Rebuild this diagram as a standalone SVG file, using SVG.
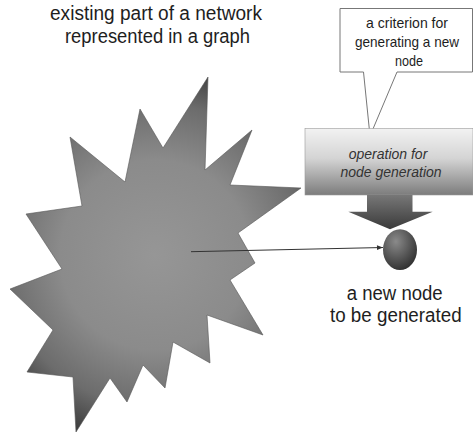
<svg xmlns="http://www.w3.org/2000/svg" width="473" height="433" viewBox="0 0 473 433">
  <defs>
    <radialGradient id="gStar" gradientUnits="userSpaceOnUse" cx="155" cy="255" r="190">
      <stop offset="0" stop-color="#969696"/>
      <stop offset="0.5" stop-color="#8b8b8b"/>
      <stop offset="0.8" stop-color="#6c6c6c"/>
      <stop offset="1" stop-color="#3e3e3e"/>
    </radialGradient>
    <linearGradient id="gBox" x1="0" y1="0" x2="0" y2="1">
      <stop offset="0" stop-color="#f2f2f2"/>
      <stop offset="0.45" stop-color="#d4d4d4"/>
      <stop offset="1" stop-color="#7c7c7c"/>
    </linearGradient>
    <linearGradient id="gArrow" x1="0" y1="0" x2="0" y2="1">
      <stop offset="0" stop-color="#777"/>
      <stop offset="1" stop-color="#3a3a3a"/>
    </linearGradient>
    <radialGradient id="gNode" cx="0.38" cy="0.3" r="0.75">
      <stop offset="0" stop-color="#8a8a8a"/>
      <stop offset="1" stop-color="#2e2e2e"/>
    </radialGradient>
    <marker id="mArrow" viewBox="0 0 10 10" refX="10" refY="5" markerWidth="7" markerHeight="6" orient="auto" markerUnits="userSpaceOnUse">
      <path d="M0,1 L10,5 L0,9 z" fill="#333"/>
    </marker>
  </defs>
  <style>
    .t { font-family: "Liberation Sans", Arial, sans-serif; fill: #1e1e1e; text-anchor: middle; }
    .big { font-size: 20px; }
    .small { font-size: 14.5px; }
    .it { font-style: italic; fill: #333; font-size: 14px; }
  </style>

  <g id="title">
    <text class="t big" x="156" y="20" textLength="212" lengthAdjust="spacingAndGlyphs">existing part of a network</text>
    <text class="t big" x="157.5" y="43" textLength="185" lengthAdjust="spacingAndGlyphs">represented in a graph</text>
  </g>

  <g id="network">
    <polygon fill="url(#gStar)" stroke="#555" stroke-width="0.6" points="208,77 205,170 252,130 230,185 301,188 238,233 255,263 230,280 263,335 207,315 210,363 173,342 165,388 143,365 127,402 110,378 76,432 73,377 27,372 53,330 10,289 62,269 26,214 82,206 70,137 125,182 140,109 163,148"/>
  </g>

  <g id="criterion">
    <path d="M340,8.5 H472.5 V72 H397 L370,136 L363.5,72 H340 Z" fill="#fff" stroke="#777" stroke-width="1"/>
    <text class="t small" x="407" y="28" textLength="82" lengthAdjust="spacingAndGlyphs">a criterion for</text>
    <text class="t small" x="407" y="46.5" textLength="104" lengthAdjust="spacingAndGlyphs">generating a new</text>
    <text class="t small" x="409" y="65.5" textLength="28" lengthAdjust="spacingAndGlyphs">node</text>
  </g>

  <g id="operation">
    <rect x="305" y="128.5" width="168" height="66.5" fill="url(#gBox)" stroke="#999" stroke-width="0.6"/>
    <text class="t it" x="388" y="159">operation for</text>
    <text class="t it" x="391" y="177">node generation</text>
    <path d="M367,195 H412.5 V211.7 H432.7 L390,229.3 L348.3,211.7 H367 Z" fill="url(#gArrow)"/>
  </g>

  <g id="newnode">
    <ellipse cx="400" cy="249.7" rx="17" ry="20.4" fill="url(#gNode)"/>
    <text class="t big" x="394.7" y="299.5" textLength="96" lengthAdjust="spacingAndGlyphs">a new node</text>
    <text class="t big" x="395.8" y="321.5" textLength="131.7" lengthAdjust="spacingAndGlyphs">to be generated</text>
  </g>

  <g id="connectors">
    <line x1="191" y1="251.7" x2="383" y2="247.5" stroke="#333" stroke-width="1" marker-end="url(#mArrow)"/>
  </g>
</svg>
